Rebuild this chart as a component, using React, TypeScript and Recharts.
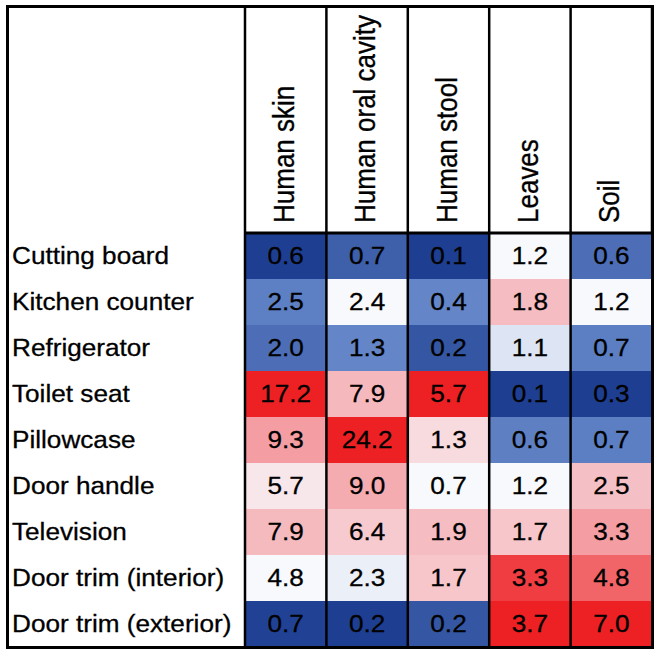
import React from "react";
import { BarChart, Bar, XAxis, YAxis, Cell, LabelList, ReferenceLine } from "recharts";

const rowNames = [
  "Cutting board",
  "Kitchen counter",
  "Refrigerator",
  "Toilet seat",
  "Pillowcase",
  "Door handle",
  "Television",
  "Door trim (interior)",
  "Door trim (exterior)",
];

const columnNames = ["Human skin", "Human oral cavity", "Human stool", "Leaves", "Soil"];

const humanSkin = [0.6, 2.5, 2.0, 17.2, 9.3, 5.7, 7.9, 4.8, 0.7];
const humanOral = [0.7, 2.4, 1.3, 7.9, 24.2, 9.0, 6.4, 2.3, 0.2];
const humanStool = [0.1, 0.4, 0.2, 5.7, 1.3, 0.7, 1.9, 1.7, 0.2];
const leaves = [1.2, 1.8, 1.1, 0.1, 0.6, 1.2, 1.7, 3.3, 3.7];
const soil = [0.6, 1.2, 0.7, 0.3, 0.7, 2.5, 3.3, 4.8, 7.0];

const columnValues = [humanSkin, humanOral, humanStool, leaves, soil];

const FONT = "'Liberation Sans', Arial, Helvetica, sans-serif";
const WHITE = [248, 249, 253];
const BLUE_RAMP = [WHITE, [100, 134, 200], [30, 63, 145]];
const RED_RAMP = [WHITE, [242, 122, 127], [237, 33, 36]];

// per column colour scale: min -> blue, median -> white, max -> red
const ramp = (stops: number[][], t: number) => {
  const s = Math.min(Math.max(t, 0), 1) * (stops.length - 1);
  const i = Math.min(Math.floor(s), stops.length - 2);
  const f = s - i;
  const a = stops[i];
  const b = stops[i + 1];
  return `rgb(${a.map((v, k) => Math.round(v + (b[k] - v) * f)).join(",")})`;
};

const cellColor = (col: number, v: number) => {
  const sorted = [...columnValues[col]].sort((a, b) => a - b);
  const min = sorted[0];
  const max = sorted[sorted.length - 1];
  const med = sorted[Math.floor(sorted.length / 2)];
  if (v <= med) return ramp(BLUE_RAMP, med === min ? 0 : (med - v) / (med - min));
  return ramp(RED_RAMP, (v - med) / (max - med));
};

// every cell is one unit wide; the stacked bars make up the grid
const tableData = rowNames.map((name) => {
  const row: any = { name };
  columnNames.forEach((_, c) => (row[`c${c}`] = 1));
  return row;
});

const HEADER_BOTTOM = 223;

const HeaderTick = (props: any) => {
  const { x, payload, width } = props;
  const idx = payload.value;
  if (idx >= columnNames.length) return null;
  const colW = (width || 407) / columnNames.length;
  const cx = x + colW / 2;
  return (
    <text
      transform={`translate(${cx + 8},${HEADER_BOTTOM}) scale(1.1,1) rotate(-90)`}
      textAnchor="start"
      fontFamily={FONT}
      fontSize={26}
      fill="#000"
      stroke="#000"
      strokeWidth={0.3}
    >
      {columnNames[idx]}
    </text>
  );
};

const RowTick = (props: any) => {
  const { y, payload } = props;
  return (
    <text
      transform={`translate(12,${y + 8}) scale(1.09,1)`}
      textAnchor="start"
      fontFamily={FONT}
      fontSize={24}
      fill="#000"
      stroke="#000"
      strokeWidth={0.3}
    >
      {payload.value}
    </text>
  );
};

const valueLabel = (col: number) => (props: any) => {
  const { x, y, width, height, index } = props;
  return (
    <text
      transform={`translate(${x + width / 2},${y + height / 2 + 8}) scale(1.09,1)`}
      textAnchor="middle"
      fontFamily={FONT}
      fontSize={24}
      fill="#000"
      stroke="#000"
      strokeWidth={0.3}
    >
      {columnValues[col][index].toFixed(1)}
    </text>
  );
};

export default function App() {
  return (
    <div style={{ position: "absolute", left: 0, top: 0, width: 658, height: 655, background: "#fff" }}>
      <BarChart
        width={658}
        height={655}
        data={tableData}
        layout="vertical"
        margin={{ top: 7, right: 6, bottom: 8, left: 7 }}
        barCategoryGap={0}
        barGap={0}
      >
        <XAxis
          type="number"
          orientation="top"
          domain={[0, columnNames.length]}
          ticks={[0, 1, 2, 3, 4, 5]}
          height={226}
          tickSize={226}
          tickLine={{ stroke: "#000", strokeWidth: 2.5 }}
          axisLine={{ stroke: "#000", strokeWidth: 3 }}
          tick={<HeaderTick />}
          interval={0}
        />
        <YAxis
          type="category"
          dataKey="name"
          width={238}
          axisLine={false}
          tickLine={false}
          tick={<RowTick />}
          interval={0}
        />
        {columnNames.map((_, c) => (
          <Bar key={c} dataKey={`c${c}`} stackId="t" isAnimationActive={false}>
            {tableData.map((_, r) => (
              <Cell key={r} fill={cellColor(c, columnValues[c][r])} />
            ))}
            <LabelList dataKey={`c${c}`} content={valueLabel(c)} />
          </Bar>
        ))}
        {[0, 1, 2, 3, 4].map((v) => (
          <ReferenceLine key={v} x={v} stroke="#000" strokeWidth={2.5} />
        ))}
      </BarChart>
      <div
        style={{
          position: "absolute",
          left: 6,
          top: 5,
          width: 648,
          height: 644,
          border: "3px solid #000",
          boxSizing: "border-box",
          pointerEvents: "none",
        }}
      />
    </div>
  );
}
